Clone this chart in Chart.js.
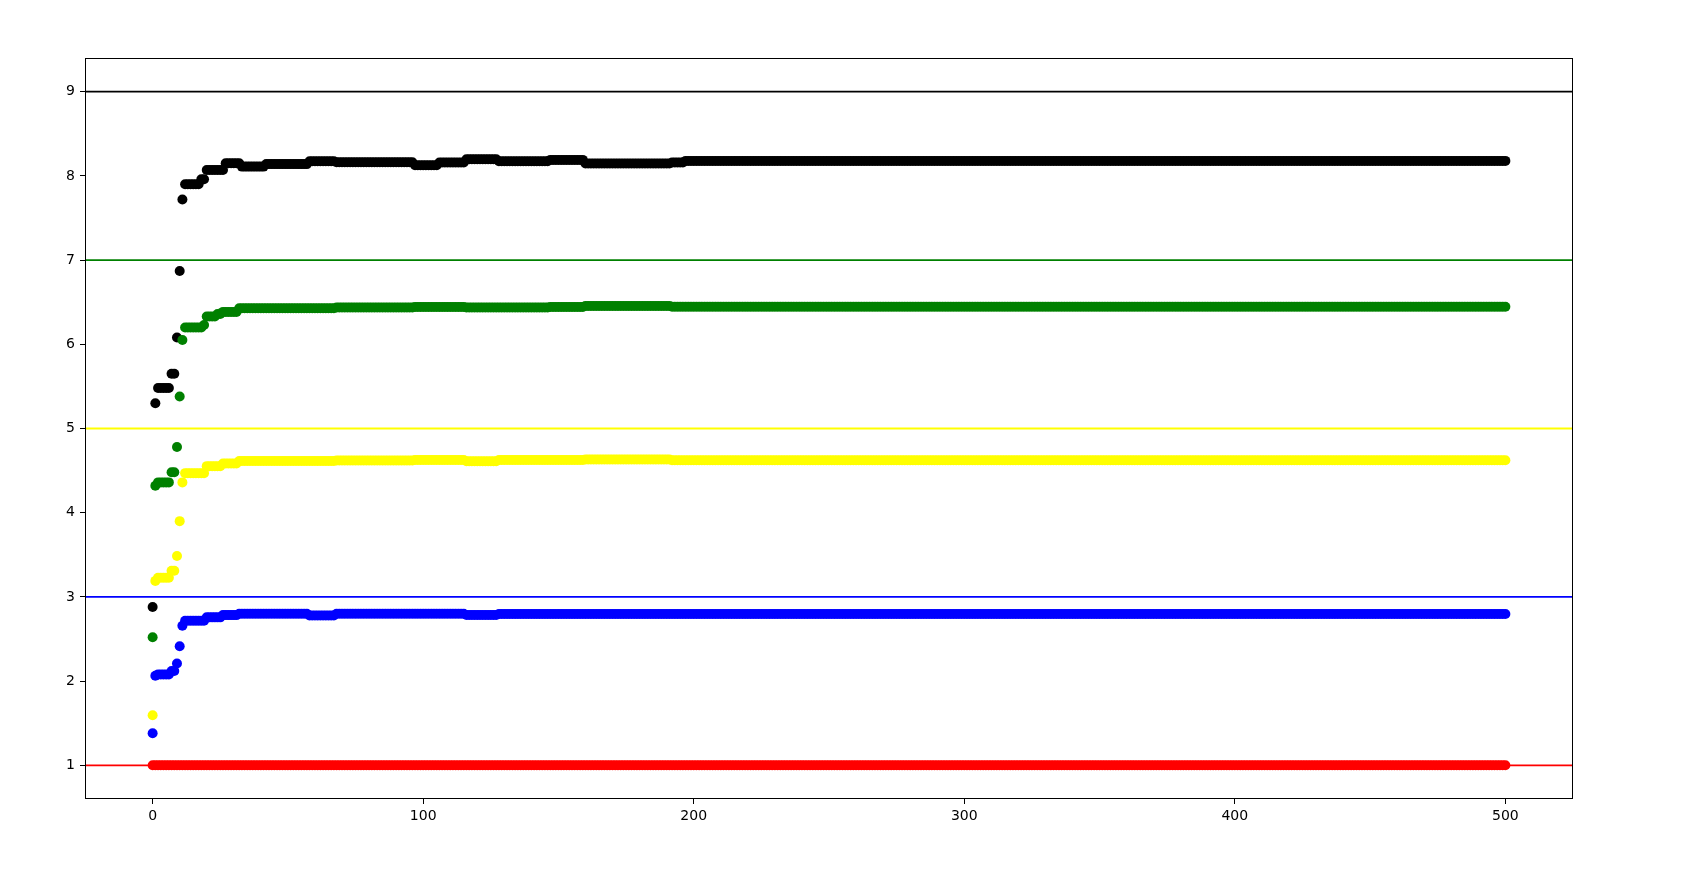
<!DOCTYPE html>
<html>
<head>
<meta charset="utf-8">
<script src="https://cdn.jsdelivr.net/npm/chart.js@4"></script>
<style>
    html, body { margin: 0; padding: 0; background: #fff; overflow: hidden; }
    canvas { display: block; }
</style>
</head>
<body>
<canvas id="graph" width="1707" height="869"></canvas>
<script>
// x runs 0..500, each series is stored as levels + how many consecutive x steps sit on that level
const xTicks = [0, 100, 200, 300, 400, 500];
const yTicks = [1, 2, 3, 4, 5, 6, 7, 8, 9];

const blackLevels = [2.88, 5.30, 5.48, 5.65, 6.08, 6.87, 7.72, 7.90, 7.96, 8.07, 8.15, 8.11, 8.14, 8.174, 8.162, 8.126, 8.16, 8.198, 8.174, 8.19, 8.147, 8.16, 8.178];
const blackRuns   = [1,    1,    5,    2,    1,    1,    1,    6,    2,    7,    6,    9,    16,   10,    29,    9,     10,   12,    19,    13,   32,    5,    304];

const greenLevels = [2.52, 4.32, 4.36, 4.48, 4.78, 5.38, 6.05, 6.20, 6.23, 6.33, 6.36, 6.385, 6.428, 6.437, 6.444, 6.437, 6.444, 6.456, 6.446];
const greenRuns   = [1,    1,    5,    2,    1,    1,    1,    7,    1,    4,    2,    6,     36,    29,    19,    31,    13,    32,    309];

const yellowLevels = [1.595, 3.19, 3.227, 3.31, 3.485, 3.90, 4.36, 4.47, 4.553, 4.585, 4.615, 4.62, 4.625, 4.612, 4.625, 4.633, 4.622];
const yellowRuns   = [1,     1,    5,     2,    1,     1,    1,    8,    6,     6,     36,    29,   19,    12,    32,    32,    309];

const blueLevels = [1.38, 2.064, 2.08, 2.12, 2.21, 2.413, 2.657, 2.717, 2.757, 2.784, 2.80, 2.78, 2.80, 2.785, 2.797];
const blueRuns   = [1,    1,     5,    2,    1,    1,     1,     8,     6,     6,     26,   10,   48,   12,    373];

const redLevels = [1.0];
const redRuns   = [501];

const refLevels = [1, 3, 5, 7, 9];
const refColors = ['#ff0000', '#0000ff', '#ffff00', '#008000', '#000000'];

function expand(levels, runs)
{
    const pts = [];
    let x = 0;
    levels.forEach((v, i) => {
        for (let k = 0; k < runs[i]; k++) {
            pts.push({x: x, y: v});
            x++;
        }
    });
    return pts;
}

function dots(levels, runs, color)
{
    return {
        type: 'scatter',
        data: expand(levels, runs),
        backgroundColor: color,
        borderWidth: 0,
        pointRadius: 5,
        pointHoverRadius: 5
    };
}

const refLines = refLevels.map((v, i) => ({
    type: 'line',
    data: [{x: -25, y: v}, {x: 525, y: v}],
    borderColor: refColors[i],
    borderWidth: 1.8,
    pointRadius: 0,
    showLine: true,
    order: 5
}));

const frame = {
    id: 'frame',
    afterDatasetsDraw(chart) {
        const a = chart.chartArea;
        const c = chart.ctx;
        c.save();
        c.strokeStyle = '#000';
        c.lineWidth = 1;
        c.strokeRect(Math.round(a.left) + 0.5, Math.round(a.top) + 0.5,
                     Math.round(a.right - a.left) - 1, Math.round(a.bottom - a.top) - 1);
        c.restore();
    }
};

const ctx = document.getElementById('graph').getContext('2d');
const dotChart = new Chart(ctx, {
    type: 'scatter',
    data: {
        datasets: [
            dots(redLevels, redRuns, '#ff0000'),
            dots(blueLevels, blueRuns, '#0000ff'),
            dots(yellowLevels, yellowRuns, '#ffff00'),
            dots(greenLevels, greenRuns, '#008000'),
            dots(blackLevels, blackRuns, '#000000'),
            ...refLines
        ]
    },
    options: {
        responsive: false,
        animation: false,
        devicePixelRatio: 1,
        layout: {
            padding: {left: 0, top: 58, right: 134, bottom: 0}
        },
        scales: {
            x: {
                type: 'linear',
                min: -25,
                max: 525,
                afterBuildTicks: (scale) => { scale.ticks = xTicks.map(v => ({value: v})); },
                afterFit: (scale) => { scale.height = 70; },
                grid: {drawOnChartArea: false, drawTicks: true, tickLength: 5, color: '#000', tickColor: '#000'},
                border: {display: false},
                ticks: {
                    color: '#000',
                    padding: 4,
                    maxRotation: 0,
                    font: {family: 'DejaVu Sans', size: 14},
                    callback: (v) => String(v)
                }
            },
            y: {
                type: 'linear',
                min: 0.6,
                max: 9.4,
                afterBuildTicks: (scale) => { scale.ticks = yTicks.map(v => ({value: v})); },
                afterFit: (scale) => { scale.width = 85; },
                grid: {drawOnChartArea: false, drawTicks: true, tickLength: 5, color: '#000', tickColor: '#000'},
                border: {display: false},
                ticks: {
                    color: '#000',
                    padding: 5,
                    font: {family: 'DejaVu Sans', size: 14},
                    callback: (v) => String(v)
                }
            }
        },
        plugins: {
            legend: {display: false},
            tooltip: {enabled: false}
        }
    },
    plugins: [frame]
});
</script>
</body>
</html>
